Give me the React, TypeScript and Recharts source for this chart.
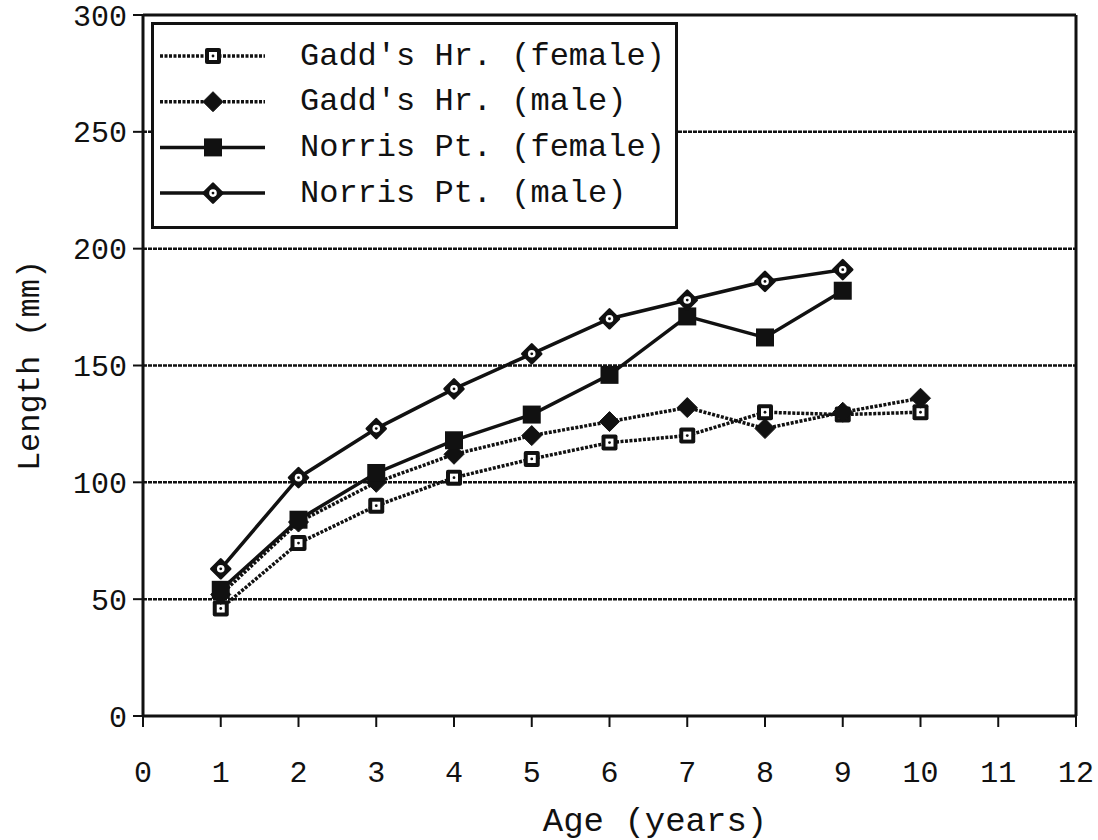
import React from 'react';
import { LineChart, Line, XAxis, YAxis, CartesianGrid, ReferenceLine } from 'recharts';

const ages = [1, 2, 3, 4, 5, 6, 7, 8, 9, 10];
const gaddFemale = [46, 74, 90, 102, 110, 117, 120, 130, 129, 130];
const gaddMale = [52, 83, 100, 112, 120, 126, 132, 123, 130, 136];
const norrisFemale = [54, 84, 104, 118, 129, 146, 171, 162, 182, null];
const norrisMale = [63, 102, 123, 140, 155, 170, 178, 186, 191, null];

const xTicks = [0, 1, 2, 3, 4, 5, 6, 7, 8, 9, 10, 11, 12];
const yTicks = [0, 50, 100, 150, 200, 250, 300];
const gridLines = [50, 100, 150, 200, 250];

const seriesNames = {
  gf: "Gadd's Hr. (female)",
  gm: "Gadd's Hr. (male)",
  nf: 'Norris Pt. (female)',
  nm: 'Norris Pt. (male)',
};

const data = ages.map((a, i) => ({
  age: a,
  gf: gaddFemale[i],
  gm: gaddMale[i],
  nf: norrisFemale[i],
  nm: norrisMale[i],
}));

const INK = '#111';
const FONT = '"Liberation Mono", "DejaVu Sans Mono", monospace';

type MarkerKind = 'openSquare' | 'filledDiamond' | 'filledSquare' | 'openDiamond';

function Marker({ kind, cx, cy }: { kind: MarkerKind; cx: number; cy: number }) {
  if (kind === 'openSquare') {
    return (
      <g>
        <rect x={cx - 8} y={cy - 8} width={16} height={16} fill={INK} rx={2} />
        <rect x={cx - 4} y={cy - 4} width={8} height={8} fill="#fff" />
        <circle cx={cx} cy={cy} r={1.4} fill={INK} />
      </g>
    );
  }
  if (kind === 'filledDiamond') {
    return <polygon points={`${cx},${cy - 10} ${cx + 10},${cy} ${cx},${cy + 10} ${cx - 10},${cy}`} fill={INK} stroke={INK} strokeWidth={1} strokeLinejoin="round" />;
  }
  if (kind === 'filledSquare') {
    return <rect x={cx - 9} y={cy - 9} width={18} height={18} fill={INK} />;
  }
  return (
    <g>
      <polygon points={`${cx},${cy - 9.5} ${cx + 9.5},${cy} ${cx},${cy + 9.5} ${cx - 9.5},${cy}`} fill={INK} strokeLinejoin="round" stroke={INK} strokeWidth={2.5} />
      <circle cx={cx} cy={cy} r={3.8} fill="#fff" />
      <circle cx={cx} cy={cy} r={1.4} fill={INK} />
    </g>
  );
}

const series: { key: 'gf' | 'gm' | 'nf' | 'nm'; kind: MarkerKind; dash?: string }[] = [
  { key: 'gf', kind: 'openSquare', dash: '3 1.5' },
  { key: 'gm', kind: 'filledDiamond', dash: '3 1.5' },
  { key: 'nf', kind: 'filledSquare' },
  { key: 'nm', kind: 'openDiamond' },
];

const makeDot = (kind: MarkerKind) => (props: any) => {
  const { cx, cy, index, value } = props;
  if (cx == null || cy == null || value == null || (Array.isArray(value) && value[1] == null)) {
    return <g key={`e-${kind}-${index}`} />;
  }
  return (
    <g key={`d-${kind}-${index}`}>
      <Marker kind={kind} cx={cx} cy={cy} />
    </g>
  );
};

function LegendBox() {
  return (
    <svg width={527} height={207} style={{ display: 'block' }}>
      <rect x={1.5} y={1.5} width={524} height={204} fill="#fff" stroke={INK} strokeWidth={3} />
      {series.map((s, i) => {
        const y = 34 + i * 45.7;
        return (
          <g key={s.key}>
            <line x1={9} x2={114} y1={y} y2={y} stroke={INK} strokeWidth={3.5} strokeDasharray={s.dash} />
            <Marker kind={s.kind} cx={62} cy={y} />
            <text x={149} y={y} dominantBaseline="central" fontFamily={FONT} fontSize={32} fill={INK}>
              {seriesNames[s.key]}
            </text>
          </g>
        );
      })}
    </svg>
  );
}

export default function App() {
  return (
    <div style={{ position: 'absolute', left: 0, top: 0, width: 1098, height: 840, background: '#fff' }}>
      <LineChart width={1098} height={840} data={data} margin={{ top: 15, right: 22, bottom: 0, left: 0 }}>
        <CartesianGrid horizontal vertical={false} horizontalValues={gridLines} stroke={INK} strokeWidth={2.5} strokeDasharray="4 1" />
        <XAxis
          dataKey="age"
          type="number"
          domain={[0, 12]}
          ticks={xTicks}
          interval={0}
          height={124}
          axisLine={{ stroke: INK, strokeWidth: 3 }}
          tickLine={{ stroke: INK, strokeWidth: 2 }}
          tickSize={11}
          tickMargin={34}
          tick={{ fill: INK, fontFamily: FONT, fontSize: 30 }}
          label={(p: any) => (
            <text x={655} y={822} textAnchor="middle" dominantBaseline="central" fontFamily={FONT} fontSize={34} fill={INK}>
              Age (years)
            </text>
          )}
        />
        <YAxis
          type="number"
          domain={[0, 300]}
          ticks={yTicks}
          interval={0}
          width={143}
          axisLine={{ stroke: INK, strokeWidth: 3 }}
          tickLine={{ stroke: INK, strokeWidth: 2 }}
          tickSize={10}
          tickMargin={6}
          tick={{ fill: INK, fontFamily: FONT, fontSize: 30 }}
          label={(p: any) => {
            const vb = p.viewBox || {};
            const cy = (vb.y ?? 15) + (vb.height ?? 701) / 2;
            return (
              <text x={30} y={cy} transform={`rotate(-90 30 ${cy})`} textAnchor="middle" dominantBaseline="central" fontFamily={FONT} fontSize={32} fill={INK}>
                Length (mm)
              </text>
            );
          }}
        />
        <ReferenceLine y={300} stroke={INK} strokeWidth={3} />
        <ReferenceLine x={12} stroke={INK} strokeWidth={3} />
        {series.map((s) => (
          <Line
            key={s.key}
            dataKey={s.key}
            name={seriesNames[s.key]}
            type="linear"
            stroke={INK}
            strokeWidth={3.5}
            strokeDasharray={s.dash}
            dot={makeDot(s.kind)}
            activeDot={false}
            isAnimationActive={false}
          />
        ))}
      </LineChart>
      <div style={{ position: 'absolute', left: 151, top: 22 }}>
        <LegendBox />
      </div>
    </div>
  );
}
